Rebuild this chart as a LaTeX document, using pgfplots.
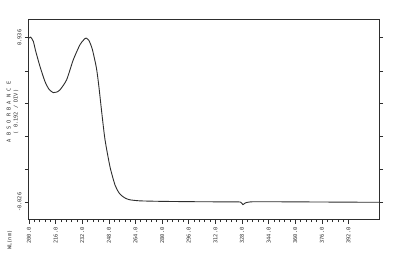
\documentclass[border=0pt]{standalone}
\usepackage{fontspec}
\setmainfont{DejaVu Sans Mono}
\usepackage{pgfplots}
\pgfplotsset{compat=1.18}
\definecolor{ink}{HTML}{2E2E2E}
\begin{document}
\begin{tikzpicture}[x=1pt,y=1pt]
\path[use as bounding box, fill=white] (0,0) rectangle (411,256);
\begin{axis}[
  at={(29pt,36pt)}, anchor=south west,
  scale only axis, width=350pt, height=200pt,
  xmin=200, xmax=410.3, ymin=-0.13, ymax=1.04,
  axis line style={ink, line width=1pt},
  xtick={200,216,...,392},
  minor x tick num=4,
  ytick={-0.026,0.166,0.358,0.550,0.742,0.936},
  yticklabels={-0.026,,,,,0.936},
  minor y tick num=4,
  tick style={ink, line width=0.7pt},
  major tick length=4pt, minor tick length=2.2pt,
  tick align=outside,
  xtick pos=bottom, ytick pos=both,
  /pgf/number format/assume math mode=true,
  xticklabel={\pgfmathprintnumber[fixed,fixed zerofill,precision=1]{\tick}},
  xticklabel style={rotate=90, anchor=east, font=\fontsize{5.3}{6}\selectfont, text=ink},
  yticklabel style={rotate=90, anchor=south, font=\fontsize{5.3}{6}\selectfont, text=ink},
  scaled y ticks=false,
  clip=false,
]
\addplot[ink, line width=0.9pt, smooth, tension=0.4] coordinates {
(200,0.935) (201,0.94) (202.6,0.915) (203.8,0.866) (206.6,0.768) (209.6,0.68)
(212,0.635) (214.6,0.615) (216.5,0.618) (218.6,0.631) (222.6,0.69)
(226.6,0.807) (230.6,0.895) (233,0.925) (234.3,0.934) (236,0.92)
(238,0.87) (240.5,0.76) (242,0.65) (243.7,0.50) (245.7,0.338)
(248.7,0.18) (251.7,0.074) (254,0.03) (255.7,0.012) (258,-0.003)
(260.7,-0.012) (266.7,-0.018) (280,-0.021) (300,-0.023) (320,-0.024)
(327,-0.025) (328.5,-0.040) (330,-0.030) (333,-0.024) (340,-0.023)
(360,-0.024) (380,-0.025) (400,-0.026) (410.3,-0.026)
};
\node[rotate=90, text=ink, font=\fontsize{5.3}{6}\selectfont] at (rel axis cs:-0.055,-0.1) {WL(nm)};
\node[rotate=90, text=ink, align=center, font=\fontsize{5.3}{7}\selectfont] at (rel axis cs:-0.047,0.54) {A B S O R B A N C E\\( 0.192 / DIV)};
\end{axis}
\end{tikzpicture}
\end{document}
